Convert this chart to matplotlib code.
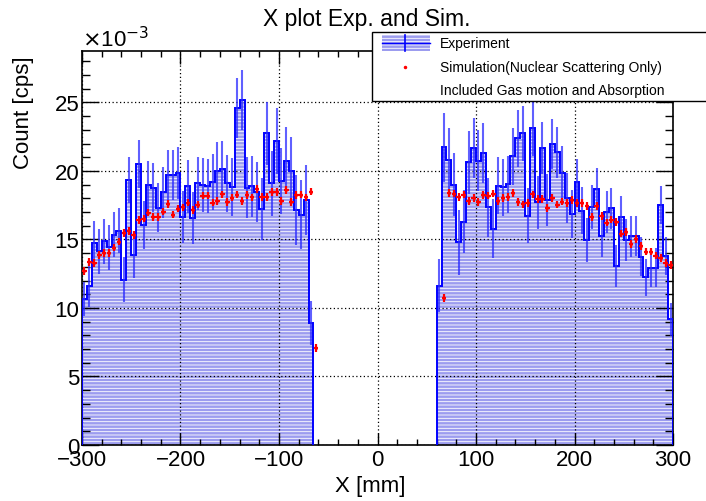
import numpy as np
import matplotlib
matplotlib.use("Agg")
import matplotlib.pyplot as plt
from matplotlib.patches import Rectangle
from matplotlib.ticker import MultipleLocator

plt.rcParams['font.family'] = ['Liberation Sans', 'DejaVu Sans']
plt.rcParams['hatch.linewidth'] = 0.6

# experiment, left block: 5 mm bins from -300 to -65 (units of 1e-3 cps)
exp_left = [10.66, 11.63, 14.72, 14.14, 14.87, 14.43, 15.35, 15.64, 12.05, 19.34,
            13.87, 20.5, 16.03, 18.97, 18.78, 17.32, 18.44, 19.70, 19.70, 19.82,
            16.66, 18.88, 16.59, 19.09, 19.0, 18.9, 19.19, 19.99, 20.12, 19.09,
            18.83, 24.56, 25.15, 18.78, 18.88, 18.44, 17.2, 22.74, 19.09, 22.16,
            19.24, 20.75, 19.97, 17.13, 16.81, 17.88, 8.91]
exp_left_err = [1.25, 1.55, 1.6, 1.63, 1.63, 1.65, 1.65, 1.66, 1.65, 1.7,
                1.65, 1.76, 1.75, 1.75, 1.78, 1.8, 1.87, 1.82, 1.82, 1.9,
                1.9, 1.92, 1.9, 1.94, 1.97, 2.0, 2.07, 2.14, 2.05, 2.1,
                2.14, 2.19, 2.2, 2.2, 2.24, 2.2, 2.26, 2.3, 2.38, 2.4,
                2.4, 2.45, 2.5, 2.55, 2.5, 2.58, 1.6]
# experiment, right block: 5 mm bins from 60 to 300
exp_right = [11.63, 21.72, 20.8, 19.0, 14.79, 16.3, 20.63, 21.65, 20.75, 21.33,
             17.35, 15.77, 18.92, 18.8, 19.02, 21.06, 22.38, 22.74, 16.74, 23.1,
             17.71, 21.65, 17.9, 21.96, 21.35, 19.85, 18.03, 16.86, 19.17, 17.1,
             14.94, 17.35, 18.68, 15.23, 17.03, 17.27, 13.04, 16.66, 14.96, 15.23,
             15.23, 13.75, 12.24, 12.9, 12.95, 17.52, 13.77, 9.16]
exp_right_err = [1.95, 2.5, 2.35, 2.3, 2.35, 2.3, 2.3, 2.2, 2.2, 2.2,
                 2.15, 2.15, 2.1, 2.1, 2.1, 2.1, 2.1, 2.0, 2.0, 2.0,
                 1.95, 1.9, 1.9, 1.83, 1.85, 2.0, 1.8, 1.75, 1.7, 1.7,
                 1.6, 1.6, 1.53, 1.53, 1.53, 1.5, 1.53, 1.5, 1.5, 1.5,
                 1.45, 1.45, 1.36, 1.4, 1.4, 1.41, 1.4, 1.2]

# simulation, bin centres -297.5 .. -62.5 and 67.5 .. 297.5
sim_left = [12.70, 13.33, 13.28, 13.87, 14.02, 14.02, 14.4, 14.84, 15.45, 15.64,
            15.33, 16.4, 16.52, 16.96, 16.64, 16.64, 17.03, 17.59, 16.81, 17.25,
            17.34, 17.69, 17.17, 17.54, 18.2, 18.2, 17.69, 17.79, 18.29, 17.71,
            18.05, 18.27, 17.79, 18.22, 18.07, 18.66, 18.12, 18.12, 18.46, 18.46,
            17.79, 18.63, 17.73, 18.24, 18.27, 18.07, 18.49, 7.07]
sim_right = [10.71, 18.37, 18.34, 18.12, 18.27, 17.79, 18.0, 17.71, 18.22, 18.2,
             18.34, 17.81, 18.0, 18.1, 18.39, 17.71, 17.56, 17.64, 18.29, 17.95,
             17.95, 17.27, 18.0, 17.54, 17.76, 17.64, 17.88, 17.66, 17.66, 17.42,
             16.62, 17.42, 16.71, 16.23, 16.45, 16.25, 15.43, 15.52, 14.67, 15.04,
             14.5, 14.11, 14.11, 13.82, 13.63, 13.29, 13.14]

bw = 5
edges_left = np.arange(-300, -65 + 1, bw)
edges_right = np.arange(60, 300 + 1, bw)
cen_exp_left = edges_left[:-1] + bw / 2
cen_exp_right = edges_right[:-1] + bw / 2
cen_sim_left = np.arange(-297.5, -62.4, bw)
cen_sim_right = np.arange(67.5, 297.6, bw)

W, H = 706, 502
fig = plt.figure(figsize=(W / 100, H / 100), dpi=100)
ax = fig.add_axes([82 / W, 1 - 446 / H, (673 - 82) / W, (446 - 52) / H])

fill_c = '#9c9cef'
for vals, edges, cen, err in [(exp_left, edges_left, cen_exp_left, exp_left_err),
                              (exp_right, edges_right, cen_exp_right, exp_right_err)]:
    ax.stairs(vals, edges, baseline=0, fill=True, facecolor=fill_c,
              edgecolor='white', hatch='-----', linewidth=0, zorder=1)
    ax.stairs(vals, edges, baseline=0, fill=False, color='#0000ff', linewidth=1.4, zorder=3)
    ax.errorbar(cen, vals, yerr=err, fmt='none', ecolor='#2b2bff', alpha=0.75,
                elinewidth=1.5, capsize=0, zorder=3)

for cen, vals in [(cen_sim_left, sim_left), (cen_sim_right, sim_right)]:
    ax.errorbar(cen, vals, xerr=2.3, yerr=0.28, fmt='.', color='red', markersize=2,
                elinewidth=1.6, capsize=0, zorder=4)

ax.set_xlim(-300, 300)
ax.set_ylim(0, 28.75)
ax.xaxis.set_major_locator(MultipleLocator(100))
ax.xaxis.set_minor_locator(MultipleLocator(20))
ax.yaxis.set_major_locator(MultipleLocator(5))
ax.yaxis.set_minor_locator(MultipleLocator(1))
ax.tick_params(which='both', direction='in', top=True, right=True, width=1.0)
ax.tick_params(axis='x', which='major', length=9, labelsize=16, pad=3)
ax.tick_params(axis='x', which='minor', length=4.5)
ax.tick_params(axis='y', which='major', length=12, labelsize=16, pad=2)
ax.tick_params(axis='y', which='minor', length=6)
for s in ax.spines.values():
    s.set_linewidth(1.2)
ax.set_axisbelow(False)
ax.grid(True, which='major', color='black', linestyle=(0, (1, 2)), linewidth=0.9)

# axis titles, title and exponent
fig.text(370 / W, 1 - 487 / H, 'X [mm]', ha='center', va='center', fontsize=16)
fig.text(24 / W, 1 - 113 / H, 'Count [cps]', ha='center', va='center',
         rotation=90, fontsize=16)
fig.text(82 / W, 1 - 40 / H, r'$\times$10$^{-3}$', ha='left', va='center', fontsize=16)
fig.text(263 / W, 1 - 26 / H, 'X plot Exp. and Sim.', ha='left', va='baseline', fontsize=16.5)

# legend box
lx0, ly0, lx1, ly1 = 371.5, 32.5, 712, 101.5
fig.patches.append(Rectangle((lx0 / W, 1 - ly1 / H), (lx1 - lx0) / W, (ly1 - ly0) / H,
                             transform=fig.transFigure, facecolor='white',
                             edgecolor='black', linewidth=1.0, zorder=10))
fig.patches.append(Rectangle((382 / W, 1 - 52 / H), 48 / W, 16 / H,
                             transform=fig.transFigure, facecolor=fill_c,
                             edgecolor='white', hatch='-----', linewidth=0, zorder=11))
fig.lines.append(plt.Line2D([405 / W, 405 / W], [1 - 52 / H, 1 - 36 / H],
                            transform=fig.transFigure, color='#0000ff', lw=1.2, zorder=12))
fig.lines.append(plt.Line2D([382 / W, 430 / W], [1 - 44 / H, 1 - 44 / H],
                            transform=fig.transFigure, color='#0000ff', lw=1.0, zorder=12))
fig.lines.append(plt.Line2D([405 / W], [1 - 67.7 / H], transform=fig.transFigure,
                            marker='.', markersize=3, color='red', zorder=12))
for yy, txt in [(44, 'Experiment'), (67.7, 'Simulation(Nuclear Scattering Only)'),
                (90.7, 'Included Gas motion and Absorption')]:
    fig.text(440 / W, 1 - yy / H, txt, ha='left', va='center', fontsize=10, zorder=13)

fig.savefig('out.png', dpi=100)
